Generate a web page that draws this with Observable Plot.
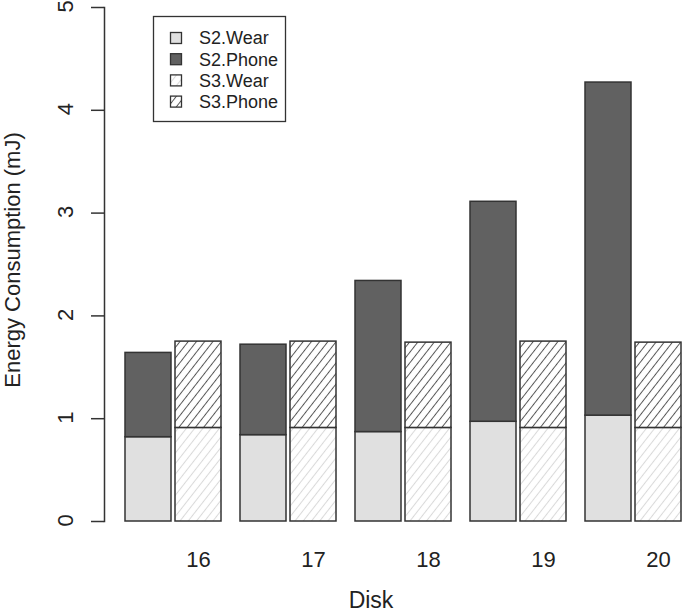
<!DOCTYPE html>
<html>
<head>
<meta charset="utf-8">
<script src="https://cdn.jsdelivr.net/npm/d3@7"></script>
<script src="https://cdn.jsdelivr.net/npm/@observablehq/plot@0.6"></script>
<style>
  html, body { margin: 0; padding: 0; background: #fff; }
  #wrap { position: relative; width: 685px; height: 613px; font-family: "Liberation Sans", Arial, sans-serif; }
  #legend { position: absolute; left: 0; top: 0; }
</style>
</head>
<body>
<div id="wrap"></div>
<script>
// ---- data ----
const disks = [16, 17, 18, 19, 20];
const seriesNames = ["S2.Wear", "S2.Phone", "S3.Wear", "S3.Phone"];
const s2Wear  = [0.82, 0.84, 0.87, 0.97, 1.03];
const s2Phone = [0.82, 0.88, 1.47, 2.14, 3.24];
const s3Wear  = [0.91, 0.91, 0.91, 0.91, 0.91];
const s3Phone = [0.84, 0.84, 0.83, 0.84, 0.83];
const yTicks = [0, 1, 2, 3, 4, 5];

const seriesFill = ["#e0e0e0", "#616161", "url(#hatchLight)", "url(#hatchDark)"];

const rows = [];
disks.forEach((d, i) => {
  rows.push({disk: d, scen: "S2", series: "S2.Wear", value: s2Wear[i]});
  rows.push({disk: d, scen: "S2", series: "S2.Phone", value: s2Phone[i]});
  rows.push({disk: d, scen: "S3", series: "S3.Wear", value: s3Wear[i]});
  rows.push({disk: d, scen: "S3", series: "S3.Phone", value: s3Phone[i]});
});

const W = 685, H = 613;
const chart = Plot.plot({
  width: W,
  height: H,
  marginTop: 7,
  marginBottom: 92,
  marginLeft: 102,
  marginRight: 0,
  style: {fontFamily: '"Liberation Sans", Arial, sans-serif', fontSize: "22px", color: "#222", background: "#fff", overflow: "visible"},
  fx: {domain: disks, paddingInner: 0.151, paddingOuter: 0.1014, align: 0.868, axis: null},
  x: {domain: ["S2", "S3"], paddingInner: 0.075, paddingOuter: 0, axis: null},
  y: {domain: [0, 5], axis: null},
  color: {type: "ordinal", domain: seriesNames, range: seriesFill},
  marks: [
    Plot.barY(rows, Plot.stackY({fx: "disk", x: "scen", y: "value", fill: "series", stroke: "#333", strokeWidth: 1.5})),
    Plot.axisY({ticks: yTicks, tickSize: 13, dx: -20, tickFormat: () => "", label: null, stroke: "#333", strokeWidth: 1.5}),
    Plot.frame({anchor: "left", dx: -20, stroke: "#333", strokeWidth: 1.5, facetAnchor: "left"}),
    Plot.text(yTicks, {y: d => d, frameAnchor: "left", dx: -59, dy: 5, rotate: -90, text: d => String(d), fontSize: 22, fill: "#222", facetAnchor: "left"}),
    Plot.text(disks, {fx: d => d, x: () => "S3", frameAnchor: "bottom", dy: 45, text: d => String(d), fontSize: 22, fill: "#222"})
  ]
});

document.getElementById("wrap").appendChild(chart);

// hatch patterns
const svg = d3.select(chart);
const defs = svg.insert("defs", ":first-child");
function hatch(sel, id, color, width) {
  const p = sel.append("pattern").attr("id", id).attr("patternUnits", "userSpaceOnUse")
    .attr("width", 6.5).attr("height", 6.5).attr("patternTransform", "rotate(38)");
  p.append("rect").attr("width", 6.5).attr("height", 6.5).attr("fill", "#fff");
  p.append("line").attr("x1", 3.25).attr("y1", -1).attr("x2", 3.25).attr("y2", 7.5)
    .attr("stroke", color).attr("stroke-width", width);
}
hatch(defs, "hatchLight", "#d9d9d9", 1);
hatch(defs, "hatchDark", "#555", 1);

// axis titles
svg.append("text").attr("x", 371).attr("y", 608)
  .attr("text-anchor", "middle").attr("fill", "#222").attr("font-size", "23px").text("Disk");
svg.append("text").attr("transform", "translate(20,260) rotate(-90)")
  .attr("text-anchor", "middle").attr("fill", "#222").attr("font-size", "22px").text("Energy Consumption (mJ)");

// legend
const lg = d3.select("#wrap").append("svg").attr("id", "legend").attr("width", W).attr("height", H)
  .style("pointer-events", "none");
const ldefs = lg.append("defs");
hatch(ldefs, "lgHatchLight", "#d9d9d9", 1);
hatch(ldefs, "lgHatchDark", "#555", 1);
const lgFill = ["#e0e0e0", "#616161", "url(#lgHatchLight)", "url(#lgHatchDark)"];
lg.append("rect").attr("x", 153.5).attr("y", 16.5).attr("width", 132).attr("height", 105)
  .attr("fill", "#fff").attr("stroke", "#333").attr("stroke-width", 1.3);
seriesNames.forEach((s, i) => {
  const cy = 38 + i * 21.2;
  lg.append("rect").attr("x", 170.5).attr("y", cy - 5.5).attr("width", 11).attr("height", 11)
    .attr("fill", lgFill[i]).attr("stroke", "#333").attr("stroke-width", 1.3);
  lg.append("text").attr("x", 199).attr("y", cy).attr("dy", "0.35em")
    .attr("fill", "#222").attr("font-size", "18px").text(s);
});
</script>
</body>
</html>
